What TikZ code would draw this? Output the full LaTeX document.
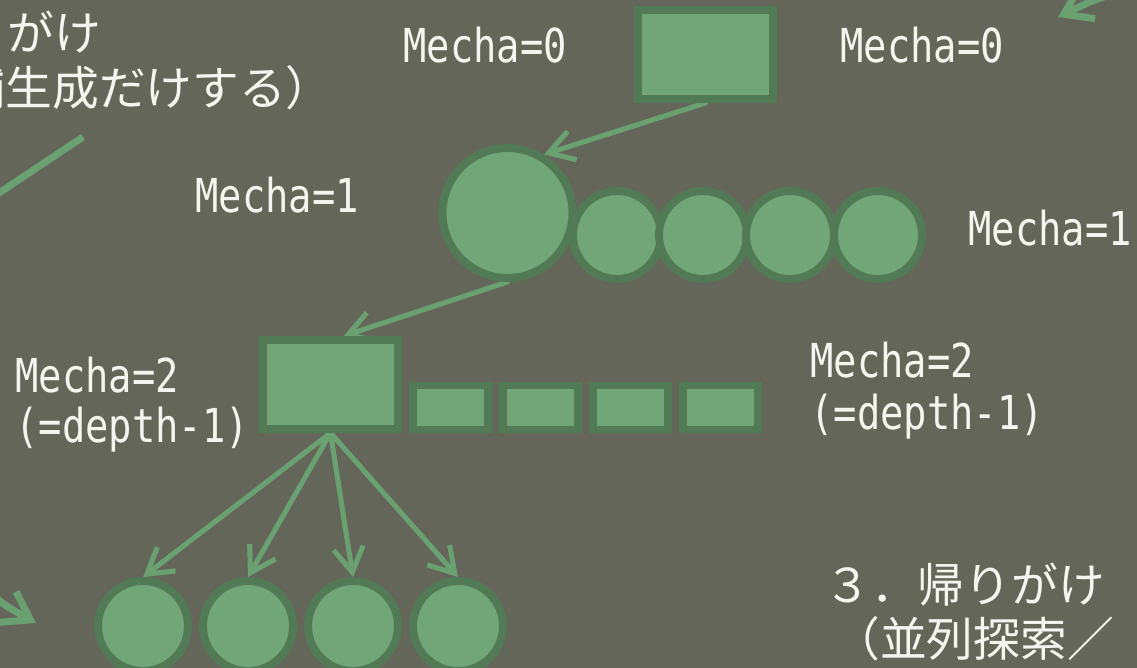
\documentclass[tikz,border=0pt]{standalone}
\usepackage{fontspec}
\usetikzlibrary{arrows.meta}
\newfontfamily\jpfont{Noto Sans CJK JP}
\newfontfamily\monofont[FakeStretch=0.83]{DejaVu Sans Mono}
\definecolor{bgc}{RGB}{100,102,89}
\definecolor{fillg}{RGB}{114,165,122}
\definecolor{edgeg}{RGB}{82,122,86}
\definecolor{arrowg}{RGB}{106,160,114}
\definecolor{txt}{RGB}{245,245,240}
\pgfdeclarelayer{bglayer}
\pgfdeclarelayer{arrowlayer}
\pgfsetlayers{bglayer,arrowlayer,main}
\begin{document}
\begin{tikzpicture}[x=0.02cm,y=-0.02cm,
  shapebox/.style={draw=edgeg, fill=fillg, line width=4.5pt, inner sep=0pt},
  bigbox/.style={shapebox, rectangle, minimum width=2.7cm, minimum height=1.78cm},
  smallbox/.style={shapebox, rectangle, line width=4.25pt, minimum width=1.5cm, minimum height=0.88cm},
  bigdisc/.style={shapebox, circle, minimum size=2.6cm},
  middisc/.style={shapebox, circle, minimum size=1.76cm},
  lowdisc/.style={shapebox, circle, minimum size=1.8cm},
  mono/.style={text=txt, font=\monofont\fontsize{26.6}{30}\selectfont, inner sep=0pt, anchor=base west},
  jp/.style={text=txt, font=\jpfont\fontsize{26.6}{30}\selectfont, inner sep=0pt},
  arr/.style={draw=arrowg, line width=2.9pt, line cap=round, -{Straight Barb[length=14pt,width=17pt]}},
  arrbig/.style={draw=arrowg, line width=4pt, line cap=round, -{Straight Barb[length=15pt,width=20pt]}},
  linebig/.style={draw=arrowg, line width=4pt}
]
\begin{pgfonlayer}{bglayer}
\fill[bgc] (0,0) rectangle (1137,668);
\end{pgfonlayer}
\useasboundingbox (0,0) rectangle (1137,668);

% shapes
\node[bigbox] (r0) at (705.5,54.5) {};
\node[bigdisc] (c0) at (507.5,213) {};
\node[middisc] (c1) at (617,235) {};
\node[middisc] (c2) at (703,235) {};
\node[middisc] (c3) at (790,235) {};
\node[middisc] (c4) at (878,235) {};
\node[bigbox] (r1) at (330.5,384.5) {};
\node[smallbox] (s1) at (450.5,407.5) {};
\node[smallbox] (s2) at (540.5,407.5) {};
\node[smallbox] (s3) at (630.5,407.5) {};
\node[smallbox] (s4) at (720.5,407.5) {};
\node[lowdisc] (b1) at (143,626) {};
\node[lowdisc] (b2) at (248,626) {};
\node[lowdisc] (b3) at (353,626) {};
\node[lowdisc] (b4) at (458,626) {};

% labels
\node[mono] (m0l) at (403,63) {Mecha=0};
\node[mono] (m0r) at (840,63) {Mecha=0};
\node[mono] (m1l) at (195,213) {Mecha=1};
\node[mono] (m1r) at (968,246) {Mecha=1};
\node[mono] (m2l) at (15,393) {Mecha=2};
\node[mono] (d2l) at (15,443) {(=depth-1)};
\node[mono] (m2r) at (810,378) {Mecha=2};
\node[mono] (d2r) at (810,430) {(=depth-1)};

\node[jp, anchor=west] (t1a) at (-180,33) {１．行きがけ};
\node[jp, anchor=west] (t1b) at (-135,88) {（候補生成だけする）};
\node[jp, anchor=west] (t3a) at (824,585) {３．帰りがけ};
\node[jp, anchor=west] (t3b) at (833,639) {（並列探索／};

% partial arrows at the edges
\coordinate (pa1) at (83,137);
\coordinate (pa2) at (-40,219);
\coordinate (pb1) at (1180,-6);
\coordinate (pb2) at (1058,17);
\coordinate (pc1) at (-40,555);
\coordinate (pc2) at (36,623);

\begin{pgfonlayer}{arrowlayer}
\draw[linebig] (pa1) -- (pa2);
\draw[arrbig] (pb1) .. controls (1110,-8) .. (pb2);
\draw[arrbig] (pc1) .. controls (-5,600) .. (pc2);
\draw[arr] (r0.south) -- (c0.58);
\draw[arr] (c0.south) -- (r1.75);
\draw[arr] (r1.south) -- (b1.north);
\draw[arr] (r1.south) -- (b2.north);
\draw[arr] (r1.south) -- (b3.north);
\draw[arr] (r1.south) -- (b4.north);
\end{pgfonlayer}
\end{tikzpicture}
\end{document}
